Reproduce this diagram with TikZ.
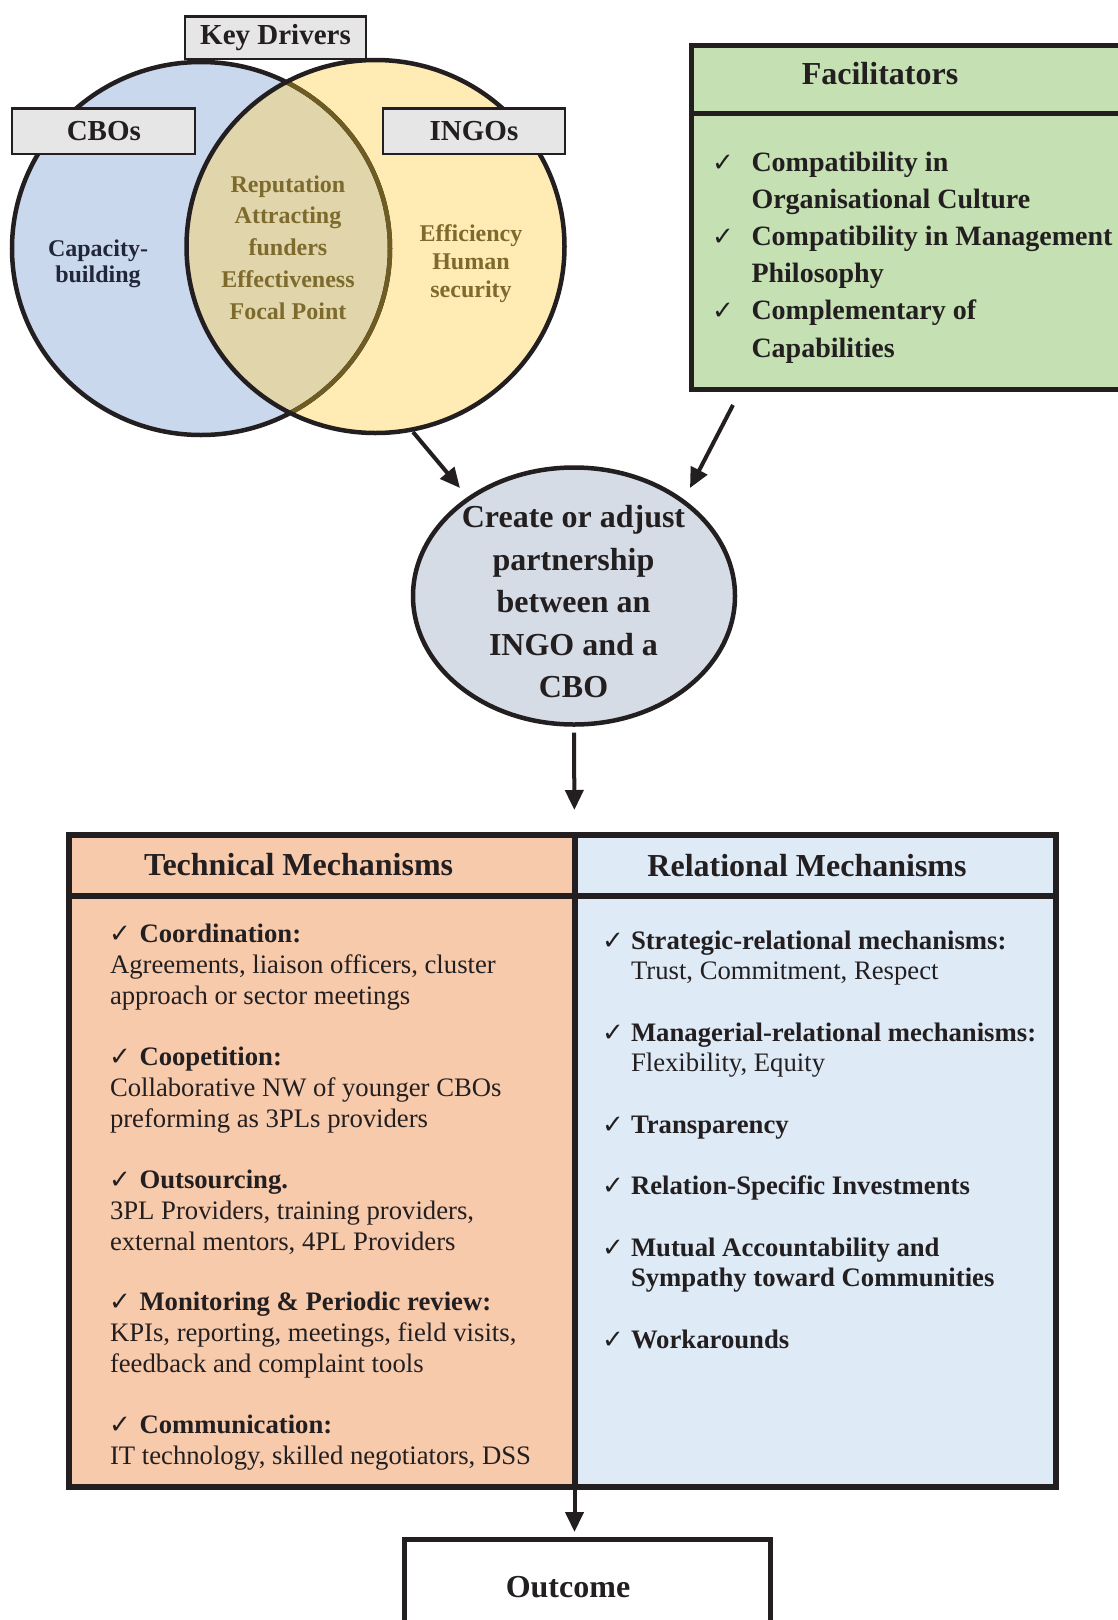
\documentclass[tikz,border=0pt]{standalone}
\usepackage{fontspec}
\setmainfont{Liberation Serif}
\newfontfamily\symfont{DejaVu Sans}
\usetikzlibrary{arrows.meta,shapes.geometric}

\definecolor{ink}{HTML}{231F20}
\definecolor{capink}{HTML}{22263A}
\definecolor{cboblue}{HTML}{CAD8EE}
\definecolor{ingoyellow}{HTML}{FFEBB3}
\definecolor{lens}{HTML}{E1D6AB}
\definecolor{lensedge}{HTML}{6E5C22}
\definecolor{olivetext}{HTML}{7D6A2C}
\definecolor{tagfill}{HTML}{E7E6E6}
\definecolor{facgreen}{HTML}{C5E0B3}
\definecolor{techorange}{HTML}{F7CAAC}
\definecolor{relblue}{HTML}{DEEAF6}
\definecolor{partnerfill}{HTML}{D6DCE5}

\newcommand{\fs}[2]{\fontsize{#1}{#2}\selectfont}
\newcommand{\stackl}[1]{\begin{tabular}[t]{@{}l@{}}#1\end{tabular}}
\newcommand{\stackc}[1]{\begin{tabular}[t]{@{}c@{}}#1\end{tabular}}

\tikzset{
  every node/.style={inner sep=0pt, outer sep=0pt, text=ink},
  venn/.style={x radius=189, y radius=186.5},
  venn line/.style={line width=4.5pt},
  tag/.style={draw=ink, line width=2.2pt, fill=tagfill, font=\fs{29}{34}\bfseries},
  panel/.style={draw=ink, line width=6pt, anchor=north west},
  facpanel/.style={draw=ink, line width=5pt, fill=facgreen, anchor=north west, minimum width=460pt},
  arrow/.style={draw=ink, line width=4pt, -{Triangle[length=20pt,width=18pt]}},
  tick/.style={anchor=base, font=\symfont\fs{26}{30}},
  title/.style={anchor=base, font=\fs{32}{38}\bfseries},
  techitem/.style={anchor=base west, font=\fs{26.7}{31}},
  relitem/.style={anchor=base west, font=\fs{26.7}{30}},
  facitem/.style={anchor=base west, font=\fs{28}{37.2}\bfseries},
}

\begin{document}
\begin{tikzpicture}[x=1pt,y=-1pt]
\clip (0,0) rectangle (1118,1620);
\fill[white] (0,0) rectangle (1118,1620);

% ---------- Venn diagram of key drivers ----------
\coordinate (cboC) at (201,248.5);
\coordinate (ingoC) at (375.5,246.5);
\fill[cboblue] (cboC) ellipse [venn];
\fill[ingoyellow] (ingoC) ellipse [venn];
\begin{scope}
  \clip (cboC) ellipse [venn];
  \fill[lens] (ingoC) ellipse [venn];
\end{scope}
\draw[venn line, ink] (cboC) ellipse [venn];
\begin{scope}
  \clip (ingoC) ellipse [venn];
  \draw[venn line, lensedge] (cboC) ellipse [venn];
\end{scope}
\draw[venn line, ink] (ingoC) ellipse [venn];

\node[tag, minimum width=181pt, minimum height=42.5pt] (keydrivers) at (275.5,37.75) {Key Drivers};
\node[tag, minimum width=183pt, minimum height=45.5pt] (cbos) at (103.85,131.25) {CBOs};
\node[tag, minimum width=182pt, minimum height=45.5pt] (ingos) at (474,131.25) {INGOs};

\node[anchor=base, font=\fs{24}{26}\bfseries, text=capink] (capacity) at (98,256)
  {\stackc{Capacity-\\building}};
\node[anchor=base, font=\fs{24}{31.75}\bfseries, text=olivetext] (shared) at (288,192)
  {\stackc{Reputation\\Attracting\\funders\\Effectiveness\\Focal Point}};
\node[anchor=base, font=\fs{24}{27.75}\bfseries, text=olivetext] (ingodrivers) at (471,241.5)
  {\stackc{Efficiency\\Human\\security}};

% ---------- Facilitators ----------
\node[facpanel, minimum height=68pt] (fachead) at (691.5,45) {};
\node[facpanel, minimum height=276pt] (facbody) at (691.5,113) {};
\node[title] (factitle) at (880,84.5) {Facilitators};
\node[tick] (fc1) at (723,171) {✓};
\node[facitem] (ft1) at (751.5,171) {\stackl{Compatibility in\\Organisational Culture}};
\node[tick] (fc2) at (723,245.4) {✓};
\node[facitem] (ft2) at (751.5,245.4) {\stackl{Compatibility in Management\\Philosophy}};
\node[tick] (fc3) at (723,319.8) {✓};
\node[facitem] (ft3) at (751.5,319.8) {\stackl{Complementary of\\Capabilities}};

% ---------- Partnership ----------
\node[ellipse, draw=ink, line width=4.5pt, fill=partnerfill,
      minimum width=322pt, minimum height=257pt] (partner) at (574,596) {};
\node[anchor=base, font=\fs{32}{42.5}\bfseries] (partnertext) at (573.5,527.5)
  {\stackc{Create or adjust\\partnership\\between an\\INGO and a\\CBO}};

\coordinate (driversout) at (413,432);
\coordinate (driversin) at (460,488);
\coordinate (facout) at (733,405);
\coordinate (facin) at (690,488);
\draw[arrow] (driversout) -- (driversin);
\draw[arrow] (facout) -- (facin);

% ---------- Mechanisms ----------
\node[panel, fill=techorange, minimum width=505.5pt, minimum height=61pt] (techhead) at (69,835) {};
\node[panel, fill=techorange, minimum width=505.5pt, minimum height=591pt] (techbody) at (69,896) {};
\node[panel, fill=relblue, minimum width=481.5pt, minimum height=61pt] (relhead) at (574.5,835) {};
\node[panel, fill=relblue, minimum width=481.5pt, minimum height=591pt] (relbody) at (574.5,896) {};

\draw[arrow, shorten <=8pt, shorten >=25pt] (partner.south) -- (techhead.north east);

\node[title] (techtitle) at (298.6,875.5) {Technical Mechanisms};
\node[title] (reltitle) at (807,876.5) {Relational Mechanisms};

\node[tick] (tc1) at (120,942.6) {✓};
\node[techitem] (tt1) at (110,942.6) {\stackl{\hspace*{29.5pt}\textbf{Coordination:}\\Agreements, liaison officers, cluster\\approach or sector meetings}};
\node[tick] (tc2) at (120,1065.35) {✓};
\node[techitem] (tt2) at (110,1065.35) {\stackl{\hspace*{29.5pt}\textbf{Coopetition:}\\Collaborative NW of younger CBOs\\preforming as 3PLs providers}};
\node[tick] (tc3) at (120,1188.1) {✓};
\node[techitem] (tt3) at (110,1188.1) {\stackl{\hspace*{29.5pt}\textbf{Outsourcing.}\\3PL Providers, training providers,\\external mentors, 4PL Providers}};
\node[tick] (tc4) at (120,1310.85) {✓};
\node[techitem] (tt4) at (110,1310.85) {\stackl{\hspace*{29.5pt}\textbf{Monitoring \& Periodic review:}\\KPIs, reporting, meetings, field visits,\\feedback and complaint tools}};
\node[tick] (tc5) at (120,1433.6) {✓};
\node[techitem] (tt5) at (110,1433.6) {\stackl{\hspace*{29.5pt}\textbf{Communication:}\\IT technology, skilled negotiators, DSS}};

\node[tick] (rc1) at (613,949.6) {✓};
\node[relitem] (rt1) at (631,949.6) {\stackl{\textbf{Strategic-relational mechanisms:}\\Trust, Commitment, Respect}};
\node[tick] (rc2) at (613,1041.6) {✓};
\node[relitem] (rt2) at (631,1041.6) {\stackl{\textbf{Managerial-relational mechanisms:}\\Flexibility, Equity}};
\node[tick] (rc3) at (613,1133.8) {✓};
\node[relitem, font=\fs{26.7}{30}\bfseries] (rt3) at (631,1133.8) {Transparency};
\node[tick] (rc4) at (613,1194.8) {✓};
\node[relitem, font=\fs{26.7}{30}\bfseries] (rt4) at (631,1194.8) {Relation-Specific Investments};
\node[tick] (rc5) at (613,1256.8) {✓};
\node[relitem, font=\fs{26.7}{30}\bfseries] (rt5) at (631,1256.8) {\stackl{Mutual Accountability and\\Sympathy toward Communities}};
\node[tick] (rc6) at (613,1348.8) {✓};
\node[relitem, font=\fs{26.7}{30}\bfseries] (rt6) at (631,1348.8) {Workarounds};

% ---------- Outcome ----------
\node[draw=ink, line width=5pt, fill=white, anchor=north west,
      minimum width=366.5pt, minimum height=140pt] (outcome) at (404,1539.5) {};
\node[title] (outcometext) at (568,1597) {Outcome};
\draw[arrow, shorten >=7.5pt] (techbody.south east) -- (outcome.north -| techbody.south east);
\end{tikzpicture}
\end{document}
